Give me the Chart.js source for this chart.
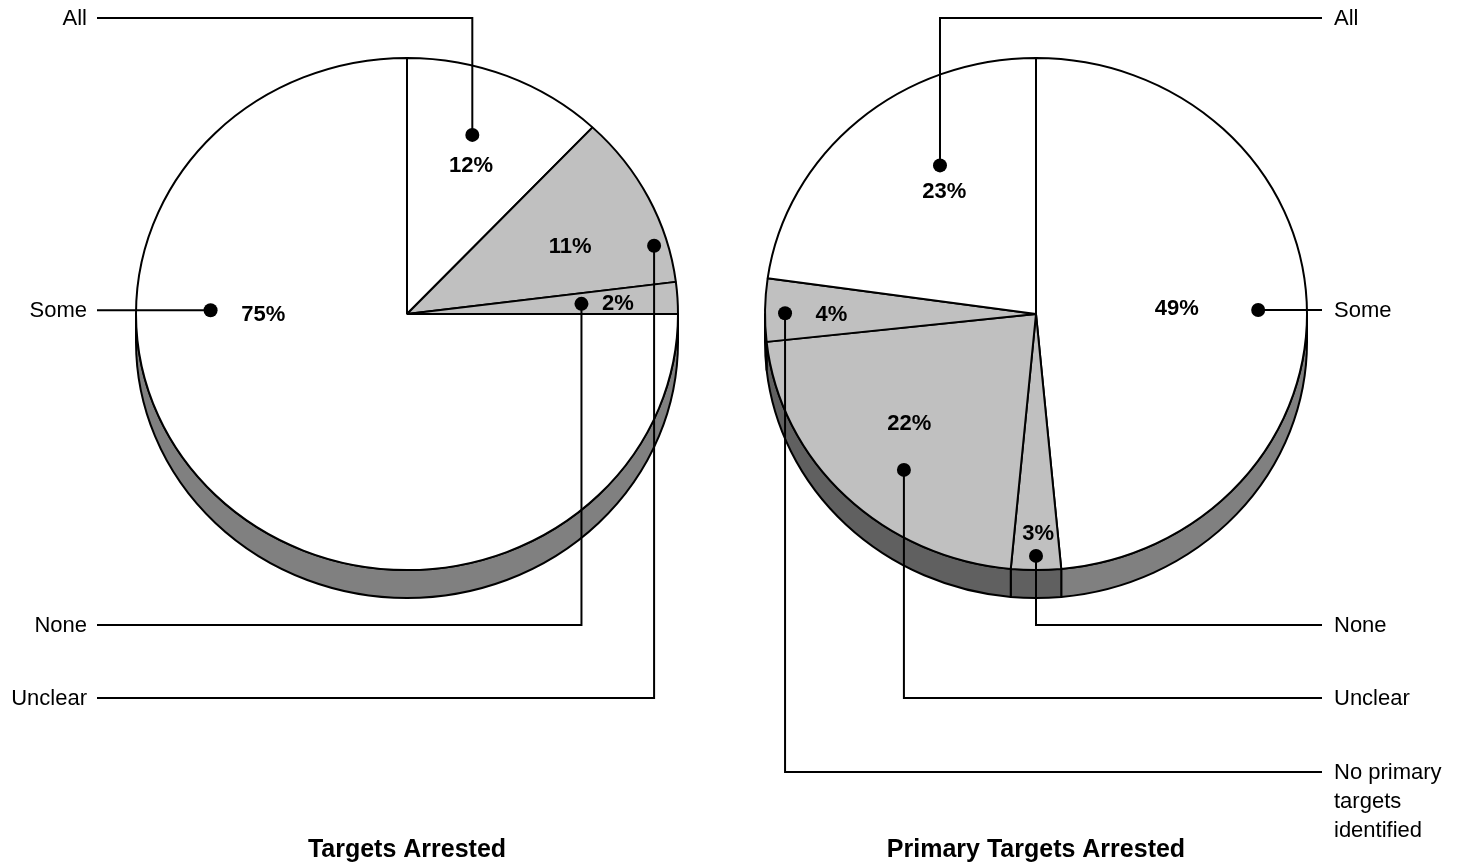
<!DOCTYPE html>
<html>
<head>
<meta charset="utf-8">
<title>Targets Arrested</title>
<script src="https://cdn.jsdelivr.net/npm/chart.js@4.4.1/dist/chart.umd.min.js"></script>
<style>
	html, body { margin: 0; padding: 0; background: #fff; }
	.pie-box { position: absolute; top: 0; width: 732px; height: 866px; }
	#box-left { left: 0; }
	#box-right { left: 732px; }
</style>
</head>
<body>
<div class="pie-box" id="box-left"><canvas id="pieLeft"></canvas></div>
<div class="pie-box" id="box-right"><canvas id="pieRight"></canvas></div>
<script>
// data, clockwise from 12 o'clock
var leftTitle = 'Targets Arrested';
var leftLabels = ['All', 'Unclear', 'None', 'Some'];
var leftValues = [12, 11, 2, 75];

var rightTitle = 'Primary Targets Arrested';
var rightLabels = ['Some', 'None', 'Unclear', ['No primary', 'targets', 'identified'], 'All'];
var rightValues = [49, 3, 22, 4, 23];

(function() {
	"use strict";

	var FONT = "'Liberation Sans', Arial, Helvetica, sans-serif";
	var WHITE = '#ffffff', SHADE = '#c0c0c0';
	var RIM_LIGHT = '#808080', RIM_DARK = '#606060';

	// where the dot / the % text sits inside each slice: [fraction of slice angle, fraction of radius]
	// lineY = where the leader turns to run out to the label (null = straight across)
	var leftMarks = [
		{ dot: [0.44, 0.74], pct: [0.51, 0.63], lineY: 18 },
		{ dot: [0.77, 0.95], pct: [0.57, 0.66], lineY: 698 },
		{ dot: [0.51, 0.645], pct: [0.53, 0.78], lineY: 625 },
		{ dot: [0.671, 0.725], pct: [0.669, 0.53], lineY: null }
	];
	var rightMarks = [
		{ dot: [0.509, 0.82], pct: [0.498, 0.52], lineY: null },
		{ dot: [0.5, 0.945], pct: [0.45, 0.85], lineY: 625 },
		{ dot: [0.425, 0.78], pct: [0.543, 0.63], lineY: 698 },
		{ dot: [0.45, 0.926], pct: [0.45, 0.755], lineY: 772 },
		{ dot: [0.617, 0.68], pct: [0.573, 0.59], lineY: 18 }
	];

	var polar = function(arc, at, k) {
		var a = arc.startAngle + at[0] * (arc.endAngle - arc.startAngle);
		var r = at[1] * arc.outerRadius;
		return { x: arc.x + r * Math.cos(a), y: arc.y + r * k * Math.sin(a) };
	};

	// draws the 3d rim, squashes the pie into an ellipse and adds the leader lines
	var pieDecor = {
		id: 'pieDecor',
		beforeDatasetsDraw: function(chart, args, opts) {
			var ctx = chart.ctx;
			var meta = chart.getDatasetMeta(0);
			var k = opts.squash;
			meta.data.forEach(function(arc, i) {
				var s = Math.max(arc.startAngle, 0);
				var e = Math.min(arc.endAngle, Math.PI);
				if (e <= s) return;
				var rx = arc.outerRadius, ry = rx * k;
				ctx.save();
				ctx.beginPath();
				ctx.ellipse(arc.x, arc.y, rx, ry, 0, s, e, false);
				ctx.ellipse(arc.x, arc.y + opts.depth, rx, ry, 0, e, s, true);
				ctx.closePath();
				ctx.fillStyle = opts.rimColors[i];
				ctx.fill();
				ctx.lineWidth = 2;
				ctx.lineJoin = 'round';
				ctx.strokeStyle = '#000';
				ctx.stroke();
				ctx.restore();
			});
			var c = meta.data[0];
			ctx.save();
			ctx.translate(c.x, c.y);
			ctx.scale(1, k);
			ctx.translate(-c.x, -c.y);
		},
		afterDatasetsDraw: function(chart, args, opts) {
			var ctx = chart.ctx;
			ctx.restore();
			var meta = chart.getDatasetMeta(0);
			var values = chart.data.datasets[0].data;
			var k = opts.squash;
			var left = opts.side === 'left';

			ctx.save();
			ctx.strokeStyle = '#000';
			ctx.fillStyle = '#000';
			ctx.lineWidth = 2;
			opts.marks.forEach(function(m, i) {
				var arc = meta.data[i];
				var dot = polar(arc, m.dot, k);
				var pct = polar(arc, m.pct, k);
				var y = m.lineY === null ? dot.y : m.lineY;

				ctx.beginPath();
				ctx.moveTo(dot.x, dot.y);
				ctx.lineTo(dot.x, y);
				ctx.lineTo(opts.edgeX, y);
				ctx.stroke();

				ctx.beginPath();
				ctx.arc(dot.x, dot.y, 7, 0, Math.PI * 2);
				ctx.fill();

				ctx.font = 'bold 22px ' + FONT;
				ctx.textAlign = 'center';
				ctx.textBaseline = 'alphabetic';
				ctx.fillText(values[i] + '%', pct.x, pct.y + 8);

				var lines = [].concat(chart.data.labels[i]);
				ctx.font = '22px ' + FONT;
				ctx.textAlign = left ? 'right' : 'left';
				lines.forEach(function(txt, j) {
					ctx.fillText(txt, left ? opts.edgeX - 10 : opts.edgeX + 12, y + 7 + j * 29);
				});
			});
			ctx.restore();
		}
	};

	var makePie = function(id, title, labels, values, fills, rims, marks, side, edgeX, pad) {
		var el = document.getElementById(id);
		var existing = Chart.getChart(el);
		if (existing) existing.destroy();

		return new Chart(el.getContext('2d'), {
			type: 'pie',
			data: {
				labels: labels,
				datasets: [{
					data: values,
					backgroundColor: fills,
					borderColor: '#000',
					borderWidth: 2,
					radius: 271,
					clip: false
				}]
			},
			options: {
				responsive: true,
				maintainAspectRatio: false,
				animation: false,
				events: [],
				layout: { padding: pad },
				plugins: {
					legend: { display: false },
					tooltip: { enabled: false },
					title: {
						display: true,
						text: title,
						position: 'bottom',
						fullSize: false,
						color: '#000',
						font: { family: FONT, size: 25, weight: 'bold', lineHeight: 1.2 },
						padding: { top: 210, bottom: 0 }
					},
					pieDecor: {
						squash: 256 / 271,
						depth: 28,
						rimColors: rims,
						marks: marks,
						side: side,
						edgeX: edgeX
					}
				}
			},
			plugins: [pieDecor]
		});
	};

	makePie('pieLeft', leftTitle, leftLabels, leftValues,
		[WHITE, SHADE, SHADE, WHITE],
		[RIM_LIGHT, RIM_DARK, RIM_DARK, RIM_LIGHT],
		leftMarks, 'left', 97,
		{ left: 82, right: 0, top: 3, bottom: 1 });

	makePie('pieRight', rightTitle, rightLabels, rightValues,
		[WHITE, SHADE, SHADE, SHADE, WHITE],
		[RIM_LIGHT, RIM_DARK, RIM_DARK, RIM_DARK, RIM_LIGHT],
		rightMarks, 'right', 590,
		{ left: 0, right: 124, top: 3, bottom: 1 });
})();
</script>
</body>
</html>
